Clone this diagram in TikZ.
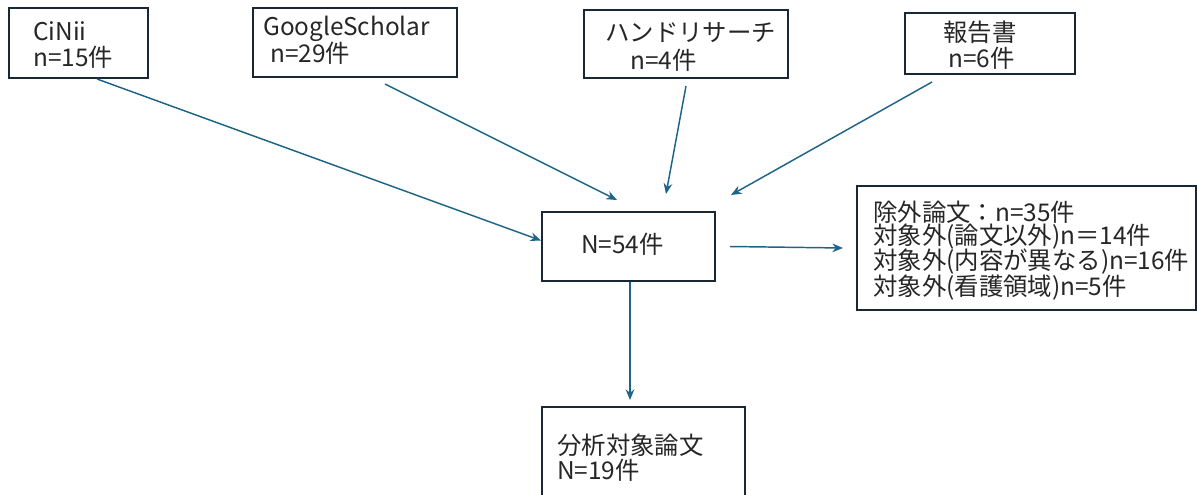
\documentclass[tikz,border=0pt]{standalone}
\usepackage{fontspec}
\setmainfont{Noto Sans CJK JP}
\usetikzlibrary{arrows.meta,fit,calc}
\definecolor{boxline}{RGB}{25,40,52}
\definecolor{arrowc}{RGB}{30,100,135}
\begin{document}
\begin{tikzpicture}[x=0.75pt,y=-0.75pt,
  box/.style={draw=boxline,line width=1.5pt,inner sep=0pt,outer sep=0pt},
  txt/.style={anchor=west,inner sep=0pt,text=black!85,font=\fontsize{18.3}{21}\selectfont},
  conn/.style={draw=arrowc,line width=1.1pt,-{Stealth[length=8pt,width=6.5pt]}}]
\clip (0,0) rectangle (1197,494);
\useasboundingbox (0,0) rectangle (1197,494);
% boxes
\node[box,fit={(9,8) (148,78)}] (cinii) {};
\node[box,fit={(253,8) (457,77)}] (google) {};
\node[box,fit={(584,10) (788,78)}] (hand) {};
\node[box,fit={(905,13) (1075,74)}] (report) {};
\node[box,fit={(542,212) (715,281)}] (total) {};
\node[box,fit={(857,186) (1196,310)}] (excl) {};
\node[box,fit={(542,407) (745,500)}] (final) {};
% texts
\node[txt] (t1a) at (33,31) {CiNii};
\node[txt] (t1b) at (33,57) {n=15件};
\node[txt] (t2a) at (263,29) {GoogleScholar};
\node[txt] (t2b) at (270,53) {n=29件};
\node[txt] (t3a) at (605,33) {ハンドリサーチ};
\node[txt] (t3b) at (630,60) {n=4件};
\node[txt] (t4a) at (943,32) {報告書};
\node[txt] (t4b) at (948,58) {n=6件};
\node[txt] (t5) at (581,244) {N=54件};
\node[txt] (t6a) at (873,212) {除外論文：n=35件};
\node[txt] (t6b) at (873,237) {対象外(論文以外)n＝14件};
\node[txt] (t6c) at (873,262) {対象外(内容が異なる)n=16件};
\node[txt] (t6d) at (873,288) {対象外(看護領域)n=5件};
\node[txt] (t7a) at (557,445) {分析対象論文};
\node[txt] (t7b) at (557,470) {N=19件};
% connectors
\draw[conn] ($(cinii.south west)+(88,1)$) -- ($(total.west)+(-1,-6)$);
\draw[conn] ($(google.south west)+(132,7)$) -- ($(total.north west)+(75,-12)$);
\draw[conn] ($(hand.south west)+(102,8)$) -- ($(total.north west)+(124,-18)$);
\draw[conn] ($(report.south west)+(27,8)$) -- ($(total.north west)+(189,-17)$);
\draw[conn] ($(total.east)+(15,0)$) -- ($(excl.west)+(-14,0)$);
\draw[conn] ($(total.south west)+(88,1)$) -- ($(final.north west)+(88,-7)$);
\end{tikzpicture}
\end{document}
